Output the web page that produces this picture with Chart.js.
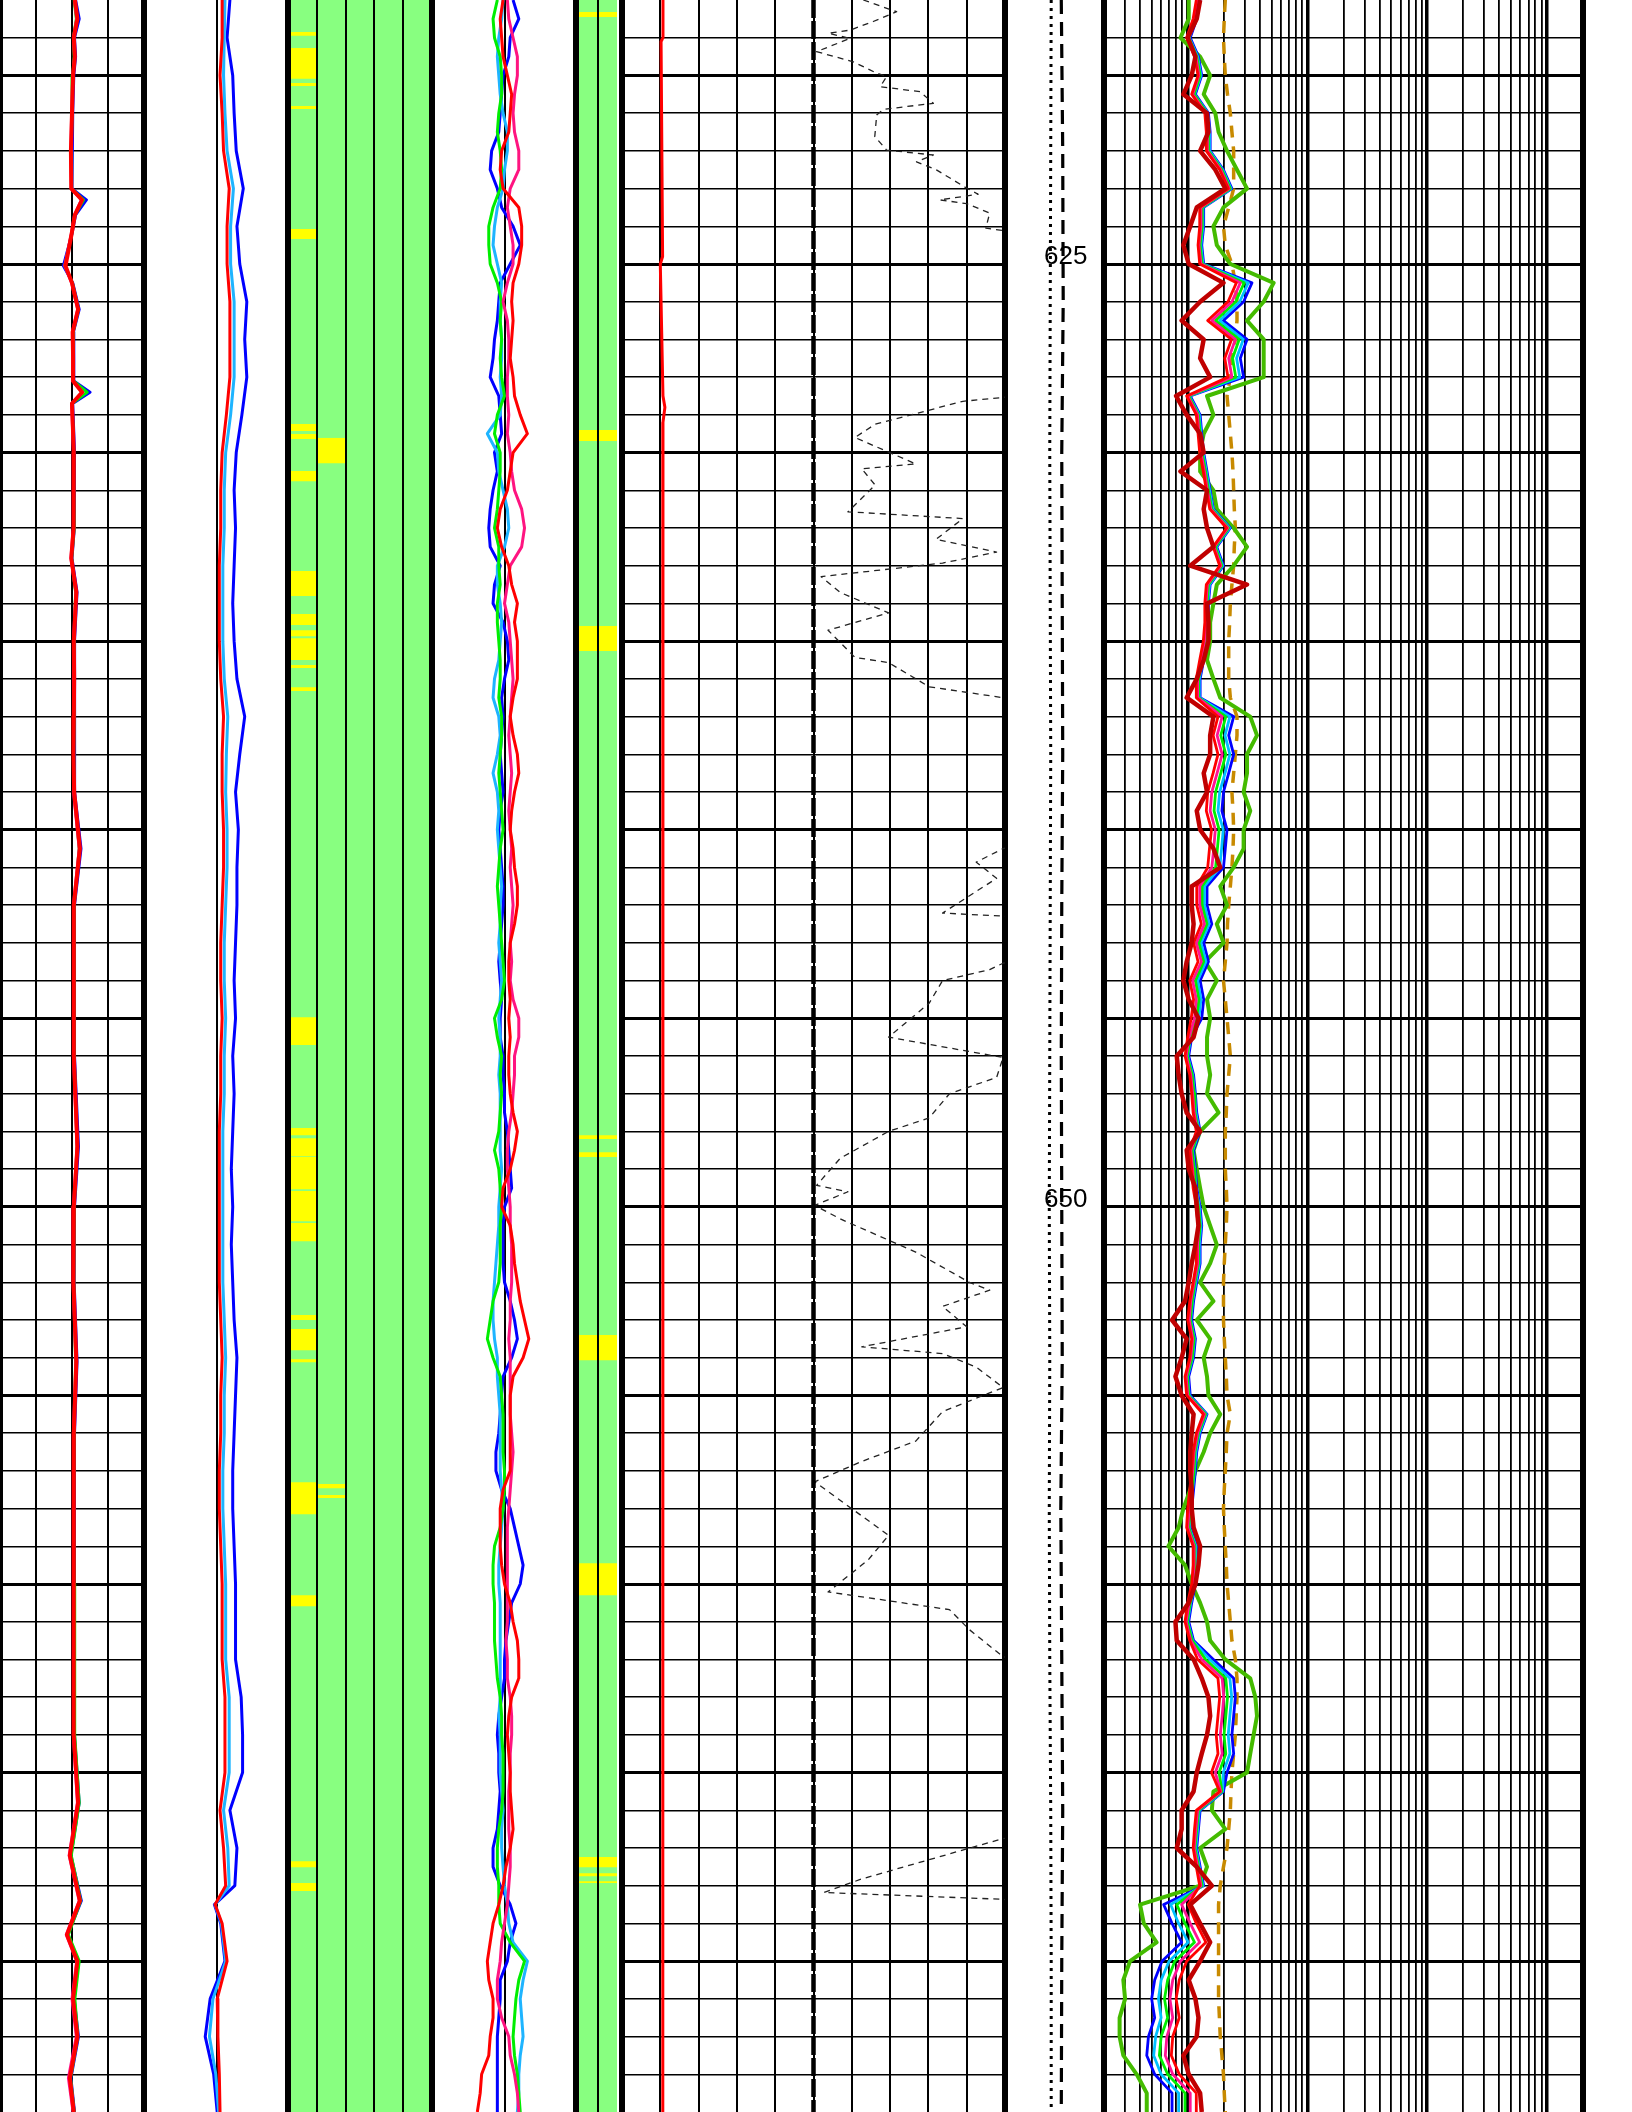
<!DOCTYPE html>
<html>
<head>
<meta charset="utf-8">
<script src="https://cdn.jsdelivr.net/npm/chart.js"></script>
<style>
html,body{margin:0;padding:0;background:#fff;width:1632px;height:2112px;overflow:hidden;position:relative;}
canvas{position:absolute;top:0;}
</style>
</head>
<body>
<script>
// ---------------- DATA ----------------
const DEPTH_MIN = 618, DEPTH_MAX = 674;
const DEPTH_LABELS = [625, 650];

const DEPTH_HALF = [618,618.5,619,619.5,620,620.5,621,621.5,622,622.5,623,623.5,624,624.5,625,625.5,626,626.5,627,627.5,628,628.5,629,629.5,630,630.5,631,631.5,632,632.5,633,633.5,634,634.5,635,635.5,636,636.5,637,637.5,638,638.5,639,639.5,640,640.5,641,641.5,642,642.5,643,643.5,644,644.5,645,645.5,646,646.5,647,647.5,648,648.5,649,649.5,650,650.5,651,651.5,652,652.5,653,653.5,654,654.5,655,655.5,656,656.5,657,657.5,658,658.5,659,659.5,660,660.5,661,661.5,662,662.5,663,663.5,664,664.5,665,665.5,666,666.5,667,667.5,668,668.5,669,669.5,670,670.5,671,671.5,672,672.5,673,673.5,674];

// Track 1
const T1_DEPTH = [618,618.5,619,619.5,620,621,622,623,623.3,623.7,624.2,625.05,625.5,626.2,626.8,627.5,628.1,628.4,628.7,630,631,632,632.8,633.7,635,636,637,638,639,640.5,642,644,646,648.4,650,652,654.1,656,658,660,662,664,665.8,667.2,668.4,669.3,670,671,672,673.1,674];
const T1_RED   = [2.08,2.15,2.05,2.08,2.03,2.0,1.97,1.98,2.28,2.08,1.99,1.82,2.0,2.17,2.02,2.03,2.03,2.28,2.0,2.05,2.04,2.05,1.98,2.12,2.05,2.06,2.05,2.04,2.06,2.22,2.05,2.05,2.05,2.15,2.05,2.04,2.12,2.05,2.04,2.05,2.05,2.05,2.17,1.94,2.22,1.86,2.15,2.03,2.15,1.94,2.05];
const T1_BLUE  = [2.1,2.2,2.07,2.1,2.05,2.02,2.0,2.0,2.4,2.1,2.0,1.76,2.02,2.2,2.04,2.05,2.05,2.5,2.02,2.07,2.06,2.07,2.0,2.14,2.07,2.08,2.07,2.06,2.08,2.25,2.07,2.07,2.07,2.18,2.07,2.06,2.14,2.07,2.06,2.07,2.07,2.07,2.2,1.97,2.26,1.88,2.18,2.06,2.18,1.97,2.07];
const T1_GREEN = [2.06,2.12,2.04,2.06,2.02,2.0,1.98,1.99,2.32,2.08,1.99,1.8,2.01,2.18,2.03,2.04,2.04,2.42,2.0,2.05,2.05,2.06,1.99,2.1,2.06,2.06,2.06,2.05,2.06,2.2,2.06,2.06,2.06,2.14,2.06,2.05,2.1,2.06,2.05,2.06,2.07,2.08,2.2,1.98,2.24,1.9,2.2,2.08,2.16,1.96,2.06];
const T1_PINK  = [2.07,2.13,2.04,2.07,2.02,1.99,1.97,1.98,2.26,2.07,1.98,1.8,1.99,2.16,2.01,2.02,2.02,2.3,1.99,2.04,2.03,2.04,1.97,2.11,2.04,2.05,2.04,2.03,2.05,2.2,2.04,2.04,2.04,2.14,2.04,2.03,2.11,2.04,2.03,2.04,2.04,2.04,2.15,1.92,2.2,1.84,2.13,2.0,2.12,1.9,2.03];

// Track 2
const T2_DEPTH = [618,619,620,621,622,623,624,625,626,627,628,629,630,631,632,633,634,635,636,637,638,639,640,641,642,643,644,645,646,647,648,649,650,651,652,653,654,655,656,657,658,659,660,661,662,663,664,665,666,667,668,668.5,669,670,671,672,673,674];
const T2_RED  = [1.08,1.08,1.05,1.08,1.1,1.18,1.15,1.15,1.19,1.19,1.19,1.14,1.08,1.06,1.06,1.04,1.04,1.04,1.06,1.1,1.08,1.08,1.1,1.1,1.08,1.06,1.06,1.08,1.06,1.06,1.04,1.04,1.04,1.04,1.04,1.06,1.08,1.06,1.06,1.04,1.04,1.06,1.08,1.08,1.08,1.12,1.12,1.12,1.05,1.1,1.13,0.98,1.08,1.15,1.01,1.02,1.04,1.05];
const T2_BLUE = [1.19,1.15,1.23,1.25,1.28,1.38,1.29,1.33,1.43,1.4,1.43,1.36,1.28,1.25,1.27,1.25,1.23,1.25,1.29,1.4,1.33,1.27,1.31,1.29,1.29,1.27,1.25,1.27,1.23,1.25,1.23,1.21,1.23,1.21,1.23,1.25,1.29,1.27,1.25,1.23,1.23,1.25,1.27,1.27,1.27,1.35,1.37,1.37,1.19,1.29,1.26,0.97,1.06,1.12,0.91,0.84,0.96,1.01];
const T2_CYAN = [1.12,1.11,1.1,1.12,1.15,1.24,1.2,1.2,1.25,1.25,1.25,1.2,1.13,1.11,1.11,1.09,1.09,1.09,1.11,1.16,1.14,1.13,1.15,1.15,1.13,1.11,1.11,1.13,1.11,1.11,1.09,1.09,1.09,1.09,1.09,1.11,1.13,1.11,1.11,1.09,1.09,1.11,1.13,1.13,1.13,1.18,1.18,1.18,1.1,1.16,1.18,0.98,1.07,1.13,0.95,0.9,0.99,1.03];

// Track 3 flag intervals (column 1 and column 2)
const T3_TOP  = [618.85,619.27,620.2,620.81,624.07,629.24,629.51,630.49,633.14,634.28,634.71,634.92,635.63,636.22,644.97,647.91,648.18,648.68,649.58,650.43,652.87,653.24,654.04,657.3,660.3,667.35,667.93];
const T3_BASE = [618.95,620.09,620.28,620.89,624.34,629.43,629.64,630.76,633.8,634.57,634.87,635.5,635.71,636.32,645.71,648.1,648.66,649.53,650.38,650.91,653.0,653.8,654.12,658.15,660.59,667.51,668.14];
const T3B_TOP  = [629.61,657.35,657.64];
const T3B_BASE = [630.28,657.46,657.72];

// Track 4
const T4_BLUE  = [6,10,4,3,-1,-2,-3,-4,-9,-10,-5,-2,6,11,4,-3,-4,-5,-7,-8,-10,-4,-3,-2,-7,-5,-8,-10,-11,-10,-3,-7,-8,-1,2,3,0,-2,-1,-2,-3,-2,-1,-3,-4,-3,-2,-1,-1,-2,-3,-4,-3,-2,-3,-3,-1,-1,0,0,2,3,4,5,0,-1,-1,-1,0,4,7,9,5,-1,-2,-3,-4,-6,-6,-2,4,7,10,13,11,5,3,1,0,0,-2,-4,-5,-4,-4,-3,-4,-5,-8,-8,-3,4,8,4,2,-3,-3,-4,-5,-5,-5,-5,-5];
const T4_CYAN  = [-1,-2,-4,-5,-4,-3,-1,2,2,0,-1,-5,-7,-8,-5,-2,-3,-3,-2,-2,-3,-2,-3,-12,-5,-4,-1,2,3,0,-5,-5,-3,-2,-3,-4,-7,-8,-4,-3,-5,-8,-5,-4,-5,-4,-3,-2,-3,-3,-4,-3,-2,-3,-4,-3,-3,-4,-3,-3,-3,-3,-2,-3,-4,-4,-5,-6,-7,-8,-8,-7,-5,-5,-4,-3,-3,-3,-3,-2,-1,-2,-3,-4,-4,-3,-3,-3,-3,-3,-3,-4,-3,-3,-3,-2,-1,-2,-2,-1,0,2,3,6,16,13,11,12,13,11,10,10,9];
const T4_GREEN = [-5,-8,-7,-3,-2,-2,-4,-5,-3,-2,-3,-8,-11,-11,-10,-5,-2,-3,-2,-3,-2,0,-5,-7,-3,-3,-4,-5,-7,-4,-4,-3,-5,-5,-4,-3,-3,-4,-2,-2,-3,-4,-3,-2,-1,-3,-4,-5,-4,-3,-2,-1,0,-2,-7,-5,-2,-3,-2,-3,-4,-7,-4,-3,-2,-3,-3,-3,-4,-8,-10,-12,-8,-3,-2,-1,-1,-1,0,0,-1,-3,-7,-8,-8,-7,-7,-7,-6,-5,-3,-2,-2,-1,-1,-1,-2,-4,-5,-5,-4,-4,-3,4,14,10,8,7,6,7,9,10,11];
const T4_PINK  = [2,3,6,9,9,7,6,7,10,10,4,2,4,6,6,2,-1,2,3,3,2,2,3,2,4,5,7,12,14,12,4,2,0,3,4,5,6,5,4,3,4,5,4,3,4,5,4,5,6,5,4,5,4,6,10,10,7,7,6,5,3,2,2,3,4,4,5,5,5,4,4,3,4,4,4,4,5,6,5,4,3,2,2,2,2,2,2,1,2,2,4,5,5,4,4,3,3,3,4,4,3,2,0,-2,-3,-5,-5,-2,3,4,7,9,10];
const T4_RED   = [-1,-3,-2,-1,2,5,4,3,-2,-3,-1,10,12,12,10,6,5,6,5,4,6,7,11,16,6,4,2,-3,-5,-2,3,5,9,7,9,9,9,6,4,6,9,10,7,5,4,6,7,9,9,7,4,3,3,4,3,4,3,3,4,6,9,7,4,-1,-2,4,6,7,9,11,14,17,13,6,4,4,4,4,4,-1,-3,-3,-3,-2,0,4,6,9,10,10,5,3,2,3,4,4,5,6,4,1,-1,-4,-8,-10,-12,-11,-8,-8,-10,-11,-16,-17,-19];

// Track 5 flag intervals
const T5_TOP  = [618.32,629.4,634.6,648.1,648.55,653.4,659.45,667.24,667.67,667.88];
const T5_BASE = [618.45,629.69,635.26,648.2,648.68,654.07,660.3,667.51,667.75,667.93];

// Track 6
const T6_RED_DEPTH = [618,619.0,619.1,624.8,625.0,628.5,628.8,629.2,640,650,660,674];
const T6_RED       = [1.07,1.07,1.02,1.06,1.0,1.07,1.12,1.07,1.06,1.07,1.06,1.07];
const T6_MID_DEPTH = [618,674];
const T6_MID       = [5,5];
const T6_DASH_DEPTH = [618.0,618.31,618.57,618.8,618.88,619.02,619.37,619.64,619.94,620.03,620.3,620.43,620.74,620.9,621.05,621.62,621.98,622.11,622.29,622.51,622.99,623.15,623.3,623.4,623.65,624.05,624.2,628.4,628.54,628.64,629.25,629.6,630.3,630.43,630.86,631.57,631.75,632.3,632.64,632.93,633.29,633.71,634.25,634.71,635.43,635.57,636.21,636.5,636.6,640.4,640.5,640.86,641.29,642.21,642.29,642.35,643.45,643.54,643.71,644.0,644.6,645.5,646.04,646.57,647.0,647.64,648.0,648.71,649.43,649.6,649.96,650.32,651.2,652.0,652.21,652.64,653.18,653.71,653.89,654.25,654.79,655.43,656.21,656.75,657.29,657.93,658.71,659.36,660.21,660.68,661.21,661.93,662.0,666.7,666.75,667.82,668.18,668.36,668.45,674];
const T6_DASH       = [6.3,7.17,6.56,5.95,5.39,5.95,5.08,6.04,6.65,6.91,6.74,7.78,8.13,6.82,6.65,6.6,6.91,8.13,7.69,8.22,9.0,9.3,8.3,9.0,9.6,9.5,10.6,10.6,9.95,8.9,6.61,6.08,7.67,6.26,6.61,5.9,8.9,8.2,9.78,8.37,5.2,5.7,6.96,5.38,6.08,6.96,8.02,9.95,10.6,10.6,9.95,9.25,9.78,8.37,9.95,10.6,10.6,9.95,9.6,8.37,8.02,6.96,9.95,9.78,8.55,8.02,6.96,5.7,5.08,5.9,5.03,5.7,7.67,9.07,9.6,8.37,9.0,6.26,8.37,9.25,9.95,8.37,7.67,6.26,5.03,5.9,6.96,6.43,5.38,8.55,9.07,9.95,10.6,10.6,9.95,6.26,5.27,9.95,10.6,10.6];

// Track 7 (depth track)
const T7_DEPTH = [618,622,626,630,634,638,642,646,650,654,658,662,666,670,674];
const T7_DOT   = [4.5,4.45,4.4,4.35,4.4,4.45,4.4,4.35,4.3,4.35,4.3,4.35,4.45,4.5,4.5];
const T7_DASH  = [5.55,5.7,5.75,5.6,5.65,5.7,5.6,5.55,5.6,5.65,5.5,5.6,5.7,5.6,5.55];

// Track 8 (log 0.2 - 2000)
const T8_TICKS = [0.2,0.3,0.4,0.5,0.6,0.7,0.8,0.9,1,2,3,4,5,6,7,8,9,10,20,30,40,50,60,70,80,90,100,200,300,400,500,600,700,800,900,1000,2000];
const T8_DKRED = [1.27,1.19,1.0,1.16,1.08,0.92,1.45,1.49,1.27,1.7,2.06,1.19,1.05,0.92,1.02,1.99,1.27,0.89,1.36,1.27,1.54,0.8,0.98,1.27,1.36,0.87,1.45,1.36,1.45,1.64,1.05,3.13,1.45,1.49,1.49,1.36,1.19,0.98,1.64,1.54,1.54,1.36,1.45,1.19,1.27,1.64,1.87,1.08,1.08,1.12,1.08,0.98,0.92,1.02,1.23,1.12,0.81,0.84,0.89,0.98,1.27,0.98,1.02,1.16,1.19,1.23,1.16,1.08,1.02,0.95,0.74,0.98,0.89,0.79,0.89,1.12,1.08,1.05,1.05,1.08,1.08,1.12,1.27,1.23,1.16,1.02,0.79,0.81,1.12,1.31,1.49,1.54,1.45,1.31,1.19,1.12,0.89,0.89,0.81,1.19,1.59,1.05,1.27,1.54,1.27,1.02,1.16,1.23,1.19,0.92,1.02,1.27,1.31];
const T8_BLUE  = [1.27,1.19,1.05,1.23,1.31,1.16,1.49,1.54,1.54,1.99,2.34,1.36,1.36,1.31,1.36,3.44,2.93,1.99,3.13,2.75,2.93,1.05,1.27,1.31,1.36,1.45,1.54,1.64,2.27,1.75,1.99,1.54,1.49,1.49,1.45,1.36,1.27,1.27,2.42,2.2,2.42,2.2,1.99,1.93,2.13,2.06,1.99,1.45,1.45,1.59,1.36,1.49,1.27,1.36,1.31,1.08,1.02,1.12,1.16,1.19,1.27,1.12,1.16,1.19,1.27,1.31,1.27,1.27,1.19,1.12,1.08,1.16,1.12,1.02,1.05,1.45,1.27,1.19,1.16,1.12,1.08,1.05,1.19,1.19,1.16,1.08,1.02,1.12,1.64,2.42,2.5,2.42,2.34,2.42,2.13,1.99,1.27,1.23,1.19,1.27,1.36,0.63,0.74,0.89,0.61,0.53,0.5,0.53,0.47,0.455,0.53,0.74,0.74];
const T8_RED   = [1.18,1.11,0.98,1.14,1.22,1.08,1.39,1.43,1.43,1.85,2.18,1.26,1.26,1.22,1.26,2.55,2.17,1.47,2.32,2.04,2.17,0.98,1.18,1.22,1.26,1.35,1.43,1.53,2.11,1.63,1.85,1.43,1.39,1.39,1.35,1.26,1.18,1.18,1.79,1.63,1.79,1.63,1.47,1.43,1.58,1.52,1.47,1.19,1.19,1.3,1.12,1.22,1.04,1.12,1.07,1.0,0.95,1.04,1.08,1.11,1.18,1.04,1.08,1.11,1.18,1.22,1.18,1.18,1.11,1.04,1.0,1.08,1.04,0.95,0.98,1.35,1.18,1.11,1.08,1.04,1.0,0.98,1.11,1.11,1.08,1.0,0.95,1.04,1.21,1.79,1.85,1.79,1.73,1.79,1.58,1.85,1.18,1.14,1.11,1.18,1.26,1.01,1.18,1.42,0.98,0.85,0.8,0.85,0.75,0.73,0.85,1.18,1.18];
const T8_PINK  = [1.21,1.13,1.0,1.17,1.24,1.1,1.42,1.46,1.46,1.89,2.22,1.29,1.29,1.24,1.29,2.75,2.34,1.59,2.5,2.2,2.34,1.0,1.21,1.24,1.29,1.38,1.46,1.56,2.16,1.66,1.89,1.46,1.42,1.42,1.38,1.29,1.21,1.21,1.94,1.76,1.94,1.76,1.59,1.54,1.7,1.65,1.59,1.26,1.26,1.38,1.18,1.3,1.1,1.18,1.14,1.03,0.97,1.06,1.1,1.13,1.21,1.06,1.1,1.13,1.21,1.24,1.21,1.21,1.13,1.06,1.03,1.1,1.06,0.97,1.0,1.38,1.21,1.13,1.1,1.06,1.03,1.0,1.13,1.13,1.1,1.03,0.97,1.06,1.31,1.94,2.0,1.94,1.87,1.94,1.7,1.89,1.21,1.17,1.13,1.21,1.29,0.89,1.05,1.26,0.87,0.75,0.71,0.75,0.67,0.65,0.75,1.05,1.05];
const T8_GREEN = [1.23,1.15,1.02,1.19,1.27,1.13,1.45,1.49,1.49,1.93,2.27,1.32,1.32,1.27,1.32,2.96,2.52,1.71,2.69,2.37,2.52,1.02,1.23,1.27,1.32,1.41,1.49,1.59,2.2,1.7,1.93,1.49,1.45,1.45,1.41,1.32,1.23,1.23,2.08,1.89,2.08,1.89,1.71,1.66,1.83,1.77,1.71,1.32,1.32,1.45,1.24,1.36,1.16,1.24,1.19,1.05,0.99,1.09,1.13,1.15,1.23,1.09,1.13,1.15,1.23,1.27,1.23,1.23,1.15,1.09,1.05,1.13,1.09,0.99,1.02,1.41,1.23,1.15,1.13,1.09,1.05,1.02,1.15,1.15,1.13,1.05,0.99,1.09,1.41,2.08,2.15,2.08,2.01,2.08,1.83,1.93,1.23,1.19,1.15,1.23,1.32,0.81,0.95,1.14,0.78,0.68,0.64,0.68,0.6,0.58,0.68,0.95,0.95];
const T8_CYAN  = [1.25,1.17,1.03,1.21,1.29,1.14,1.47,1.52,1.52,1.96,2.3,1.34,1.34,1.29,1.34,3.2,2.72,1.85,2.91,2.56,2.72,1.03,1.25,1.29,1.34,1.43,1.52,1.62,2.24,1.72,1.96,1.52,1.47,1.47,1.43,1.34,1.25,1.25,2.25,2.05,2.25,2.05,1.85,1.79,1.98,1.92,1.85,1.38,1.38,1.51,1.29,1.42,1.21,1.29,1.24,1.06,1.0,1.1,1.14,1.17,1.25,1.1,1.14,1.17,1.25,1.29,1.25,1.25,1.17,1.1,1.06,1.14,1.1,1.0,1.03,1.43,1.25,1.17,1.14,1.1,1.06,1.03,1.17,1.17,1.14,1.06,1.0,1.1,1.53,2.25,2.33,2.25,2.18,2.25,1.98,1.96,1.25,1.21,1.17,1.25,1.34,0.72,0.84,1.01,0.7,0.6,0.57,0.6,0.54,0.52,0.6,0.84,0.84];
const T8_YGREEN = [1.02,1.02,0.87,1.27,1.54,1.36,1.7,1.81,2.13,2.58,3.13,1.99,1.64,1.75,2.27,5.22,4.31,3.13,4.31,4.31,4.31,1.45,1.64,1.36,1.27,1.27,1.64,1.75,2.42,3.13,2.42,1.75,1.64,1.54,1.54,1.45,1.64,1.87,3.33,3.79,3.13,3.13,2.93,3.33,2.93,2.93,2.42,1.87,2.13,1.75,1.99,1.4,1.75,1.45,1.54,1.45,1.45,1.54,1.45,1.81,1.27,1.12,1.19,1.27,1.36,1.54,1.75,1.54,1.27,1.64,1.19,1.54,1.36,1.45,1.49,1.87,1.54,1.36,1.16,1.05,0.92,0.84,0.69,0.95,1.08,1.27,1.45,1.54,2.06,3.33,3.67,3.79,3.55,3.33,3.13,1.64,1.59,2.06,1.27,1.45,1.27,0.4,0.43,0.55,0.33,0.29,0.3,0.27,0.27,0.29,0.375,0.455,0.455];
const T8_ORANGE = [2.06,2.02,1.99,2.02,2.06,2.15,2.27,2.34,2.42,2.42,2.42,2.2,1.99,2.06,2.34,2.5,2.58,2.58,2.5,2.34,2.27,2.13,2.2,2.27,2.34,2.39,2.42,2.45,2.5,2.45,2.42,2.34,2.27,2.24,2.2,2.2,2.2,2.27,2.58,2.58,2.5,2.42,2.34,2.39,2.42,2.39,2.34,2.27,2.2,2.15,2.13,2.06,1.99,2.06,2.13,2.2,2.27,2.2,2.13,2.1,2.06,2.06,2.06,2.1,2.13,2.1,2.06,2.02,1.99,1.99,1.99,2.02,2.06,2.1,2.13,2.27,2.13,2.1,2.06,2.02,1.99,2.02,2.06,2.1,2.13,2.2,2.27,2.34,2.5,2.58,2.58,2.54,2.5,2.42,2.34,2.3,2.27,2.2,2.13,1.99,1.87,1.81,1.81,1.81,1.81,1.81,1.81,1.84,1.87,1.93,1.99,2.02,2.06];

// ---------------- BUILD ----------------
const H = 2112, PAD = 8;
const FONT = "'Liberation Sans', Arial, Helvetica, sans-serif";

function zeroFit(s) {
  if (s.isHorizontal()) s.height = 0; else s.width = 0;
  s.paddingTop = 0; s.paddingBottom = 0; s.paddingLeft = 0; s.paddingRight = 0;
}

function depthAxis(gridOn, labels) {
  const grid = [];
  for (let d = DEPTH_MIN; d <= DEPTH_MAX; d++) grid.push(d);
  const list = labels || grid;
  const ax = {
    type: 'linear', position: 'left', reverse: true, min: DEPTH_MIN, max: DEPTH_MAX,
    afterBuildTicks: s => { s.ticks = list.map(v => ({value: v})); },
    afterFit: zeroFit,
    border: {display: false},
    ticks: {display: false},
    grid: {
      display: gridOn, drawTicks: false,
      color: c => (c.tick && (c.tick.value === DEPTH_MIN || c.tick.value === DEPTH_MAX)) ? 'rgba(0,0,0,0)' : '#000',
      lineWidth: c => (c.tick && c.tick.value % 5 === 0) ? 3 : 1.5
    }
  };
  if (labels) {
    ax.ticks = {display: true, mirror: true, padding: 36, labelOffset: -7, color: '#000',
                autoSkip: false, font: {family: FONT, size: 26}};
  }
  return ax;
}

function valueAxis(type, min, max, ticks, widthFn, z) {
  return {
    type, position: 'bottom', min, max,
    afterBuildTicks: s => { s.ticks = ticks.map(v => ({value: v})); },
    afterFit: zeroFit,
    border: {display: false},
    ticks: {display: false},
    grid: {display: ticks.length > 0, drawTicks: false, color: '#000', z: z || -1,
           lineWidth: c => c.tick ? widthFn(c.tick.value) : 0},
    z: z || 0
  };
}

function curve(depths, vals, color, width, dash) {
  return {
    data: depths.map((d, i) => ({x: vals[i], y: d})),
    borderColor: color, borderWidth: width, borderDash: dash || [],
    pointRadius: 0, fill: false, tension: 0, borderJoinStyle: 'round', borderCapStyle: 'butt'
  };
}

function patchSet(tops, bases, c0, c1, color) {
  const pts = [];
  tops.forEach((t, i) => {
    pts.push({x: c0, y: t}, {x: c1, y: t}, {x: c1, y: bases[i]}, {x: c0, y: bases[i]});
  });
  return {data: pts, borderColor: 'rgba(0,0,0,0)', borderWidth: 0, backgroundColor: color,
          fill: {value: c0}, pointRadius: 0, tension: 0};
}

function backSet(maxVal, color) {
  return {data: [{x: maxVal, y: DEPTH_MIN}, {x: maxVal, y: DEPTH_MAX}], borderColor: 'rgba(0,0,0,0)',
          borderWidth: 0, backgroundColor: color, fill: {value: 0}, pointRadius: 0, tension: 0};
}

function makeTrack(left, right, xAxis, yAxis, datasets) {
  const w = right - left + 2 * PAD;
  const cv = document.createElement('canvas');
  cv.width = w; cv.height = H;
  cv.style.left = (left - PAD) + 'px';
  cv.style.width = w + 'px'; cv.style.height = H + 'px';
  document.body.appendChild(cv);
  return new Chart(cv, {
    type: 'line',
    data: {datasets},
    options: {
      indexAxis: 'y', responsive: false, maintainAspectRatio: false, animation: false,
      devicePixelRatio: 1, events: [],
      layout: {padding: {left: PAD, right: PAD, top: 0, bottom: 0}, autoPadding: false},
      plugins: {legend: {display: false}, tooltip: {enabled: false}, title: {display: false}},
      elements: {point: {radius: 0}, line: {tension: 0}},
      scales: {x: xAxis, y: yAxis}
    }
  });
}

const GREEN_FILL = '#88FF80', YELLOW = '#FFFF00';
const edge = (lo, hi, inner) => v => (v === lo || v === hi) ? 6 : inner;

// Track 1
makeTrack(0, 144,
  valueAxis('linear', 0, 4, [0, 1, 2, 3, 4], edge(0, 4, 2)),
  depthAxis(true),
  [curve(T1_DEPTH, T1_RED, '#FF0000', 4),
   curve(T1_DEPTH, T1_PINK, '#FF1493', 3),
   curve(T1_DEPTH, T1_GREEN, '#00EE00', 3),
   curve(T1_DEPTH, T1_BLUE, '#0000FF', 3)]);

// Track 2
makeTrack(146, 287,
  valueAxis('linear', 0, 2, [1], v => 2),
  depthAxis(false),
  [curve(T2_DEPTH, T2_RED, '#FF0000', 3),
   curve(T2_DEPTH, T2_CYAN, '#1EB4FF', 3),
   curve(T2_DEPTH, T2_BLUE, '#0000FF', 3)]);

// Track 3
makeTrack(288, 432,
  valueAxis('linear', 0, 5, [0, 1, 2, 3, 4, 5], edge(0, 5, 2), 1),
  depthAxis(false),
  [patchSet(T3_TOP, T3_BASE, 0, 1, YELLOW),
   patchSet(T3B_TOP, T3B_BASE, 1, 2, YELLOW),
   backSet(5, GREEN_FILL)]);

// Track 4
makeTrack(433, 576,
  valueAxis('linear', -50, 50, [0, 50], v => v === 50 ? 6 : 2),
  depthAxis(false),
  [curve(DEPTH_HALF, T4_RED, '#FF0000', 3),
   curve(DEPTH_HALF, T4_PINK, '#FF1480', 3),
   curve(DEPTH_HALF, T4_GREEN, '#00EE00', 3),
   curve(DEPTH_HALF, T4_CYAN, '#1EB4FF', 3),
   curve(DEPTH_HALF, T4_BLUE, '#0000FF', 3)]);

// Track 5
makeTrack(579, 617,
  valueAxis('linear', 0, 2, [1], v => 2, 1),
  depthAxis(false),
  [patchSet(T5_TOP, T5_BASE, 0, 2, YELLOW),
   backSet(2, GREEN_FILL)]);

// Track 6
makeTrack(622, 1005,
  valueAxis('linear', 0, 10, [0, 1, 2, 3, 4, 5, 6, 7, 8, 9, 10], edge(0, 10, 2)),
  depthAxis(true),
  [curve(T6_RED_DEPTH, T6_RED, '#FF0000', 3),
   curve(T6_MID_DEPTH, T6_MID, '#000000', 4.5, [18, 3]),
   curve(T6_DASH_DEPTH, T6_DASH, '#222222', 1.3, [6, 5])]);

// Track 7 (depth)
makeTrack(1008, 1104,
  valueAxis('linear', 0, 10, [], v => 0),
  depthAxis(false, DEPTH_LABELS),
  [curve(T7_DEPTH, T7_DOT, '#000000', 3, [3, 5]),
   curve(T7_DEPTH, T7_DASH, '#000000', 3.2, [14, 8])]);

// Track 8 (log)
const decadeW = v => {
  if (v === 0.2 || v === 2000) return 6;
  const l = Math.log10(v);
  return Math.abs(l - Math.round(l)) < 1e-9 ? 3.5 : 1.8;
};
makeTrack(1104, 1583,
  valueAxis('logarithmic', 0.2, 2000, T8_TICKS, decadeW),
  depthAxis(true),
  [curve(DEPTH_HALF, T8_DKRED, '#C00000', 4.5),
   curve(DEPTH_HALF, T8_RED, '#FF0000', 2.8),
   curve(DEPTH_HALF, T8_PINK, '#FF1493', 2.8),
   curve(DEPTH_HALF, T8_GREEN, '#00EE00', 2.8),
   curve(DEPTH_HALF, T8_CYAN, '#00C0FF', 2.8),
   curve(DEPTH_HALF, T8_BLUE, '#0000FF', 2.8),
   curve(DEPTH_HALF, T8_YGREEN, '#44BB00', 4),
   curve(DEPTH_HALF, T8_ORANGE, '#C88A00', 3.5, [12, 9])]);
</script>
</body>
</html>
